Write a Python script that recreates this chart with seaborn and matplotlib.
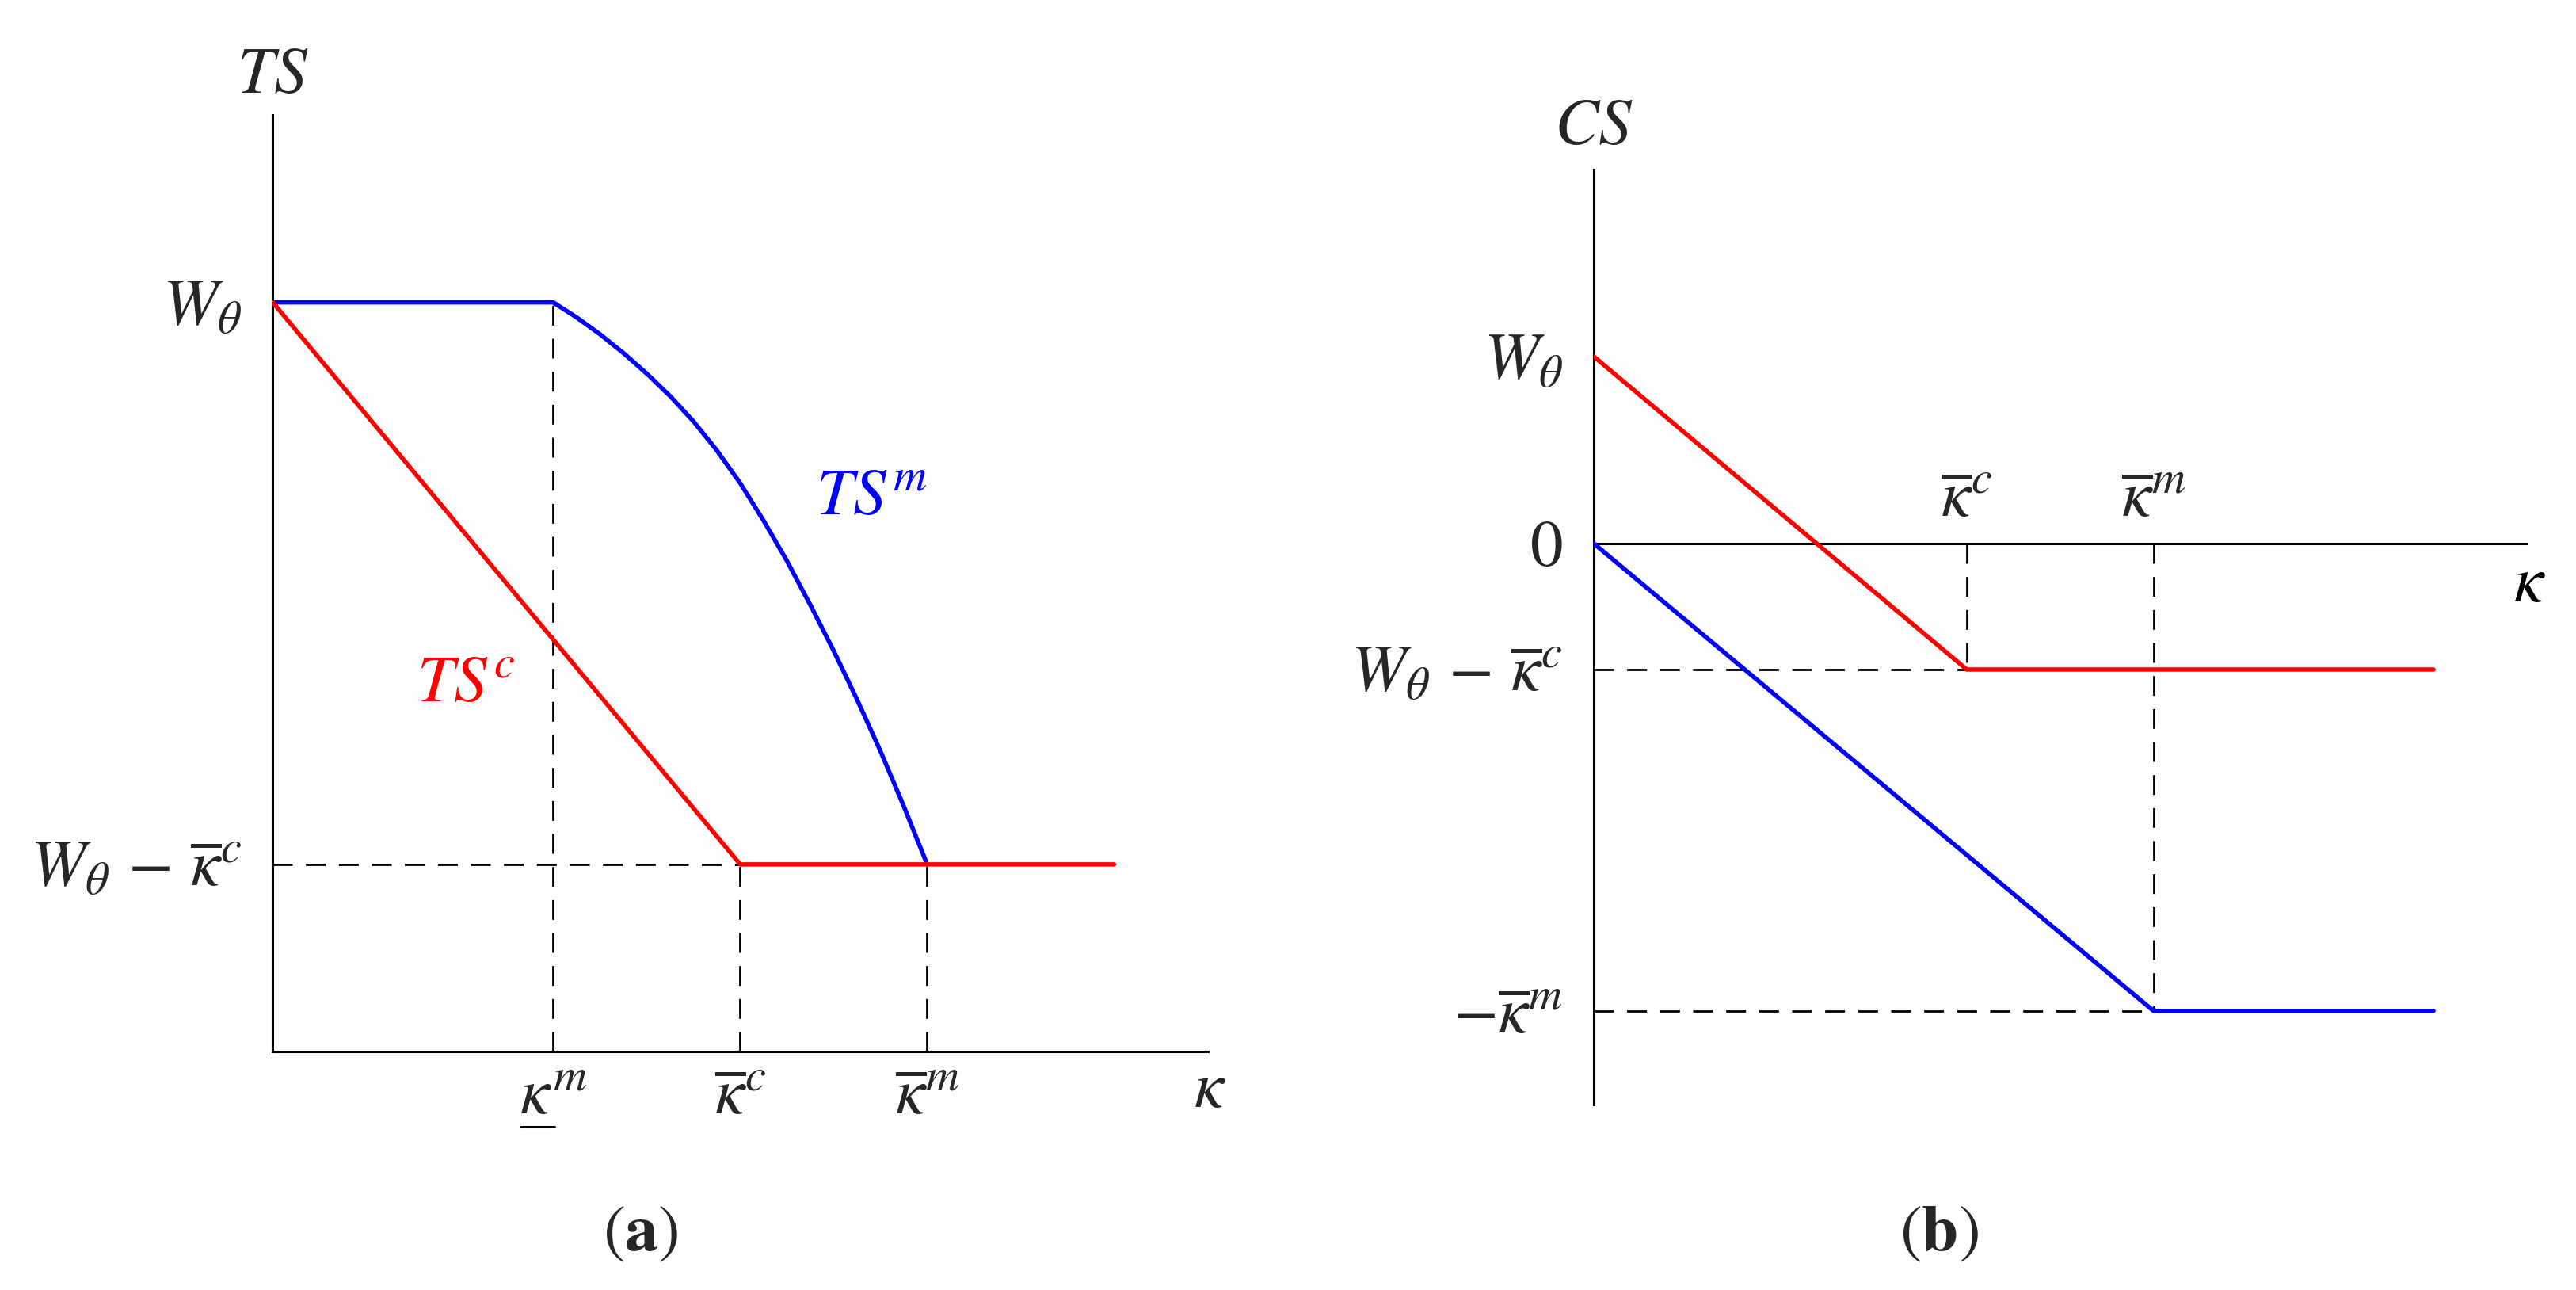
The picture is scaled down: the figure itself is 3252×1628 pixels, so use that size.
import numpy as np
import pandas as pd
import matplotlib
matplotlib.use("Agg")
import matplotlib.pyplot as plt
import seaborn as sns
from matplotlib.lines import Line2D

# ---- data ----
# panel (a): total surplus
kappa_low_m = 0.3
kappa_bar_c = 0.5
kappa_bar_m = 0.7
kappa_end_a = 0.9
W_a = 0.8
W_minus_kc_a = 0.2

tsc_x = [0.0, kappa_bar_c, kappa_end_a]
tsc_y = [W_a, W_minus_kc_a, W_minus_kc_a]

tsm_x = [0.0, 0.300, 0.325, 0.350, 0.375, 0.400, 0.425, 0.450, 0.475, 0.500,
         0.525, 0.550, 0.575, 0.600, 0.625, 0.650, 0.675, 0.700]
tsm_y = [0.8, 0.800, 0.784, 0.766, 0.746, 0.724, 0.700, 0.673, 0.642, 0.607,
         0.567, 0.524, 0.477, 0.428, 0.376, 0.321, 0.262, 0.200]

# panel (b): consumer surplus
kc_b = 0.4
km_b = 0.6
kappa_end_b = 0.9
W_b = 0.2
W_minus_kc_b = -0.135
minus_km_b = -0.5

csc_x = [0.0, kc_b, kappa_end_b]
csc_y = [W_b, W_minus_kc_b, W_minus_kc_b]
csm_x = [0.0, km_b, kappa_end_b]
csm_y = [0.0, minus_km_b, minus_km_b]

sns.set_theme(style="white")
plt.rcParams["mathtext.fontset"] = "stix"
plt.rcParams["font.family"] = ["STIXGeneral", "DejaVu Serif"]

RED = "#ff0000"
BLUE = "#0000ff"
FS = 30
LW = 2.0
dash = dict(color="black", lw=1.0, linestyle=(0, (9, 6)), zorder=1)
wkc = r"$W_\theta\,-\,\overline{\kappa}^c$"

fig = plt.figure(figsize=(16.26, 8.14), dpi=200)
ax1 = fig.add_axes([0.1059, 0.1847, 0.3629, 0.7261])
ax2 = fig.add_axes([0.6186, 0.1439, 0.3623, 0.7249])

# ---------- panel (a) ----------
ax1.plot([0, kappa_bar_m], [W_minus_kc_a, W_minus_kc_a], **dash)
ax1.plot([kappa_low_m, kappa_low_m], [0, W_a], **dash)
ax1.plot([kappa_bar_c, kappa_bar_c], [0, W_minus_kc_a], **dash)
ax1.plot([kappa_bar_m, kappa_bar_m], [0, W_minus_kc_a], **dash)

sns.lineplot(x=tsm_x, y=tsm_y, sort=False, estimator=None, color=BLUE, lw=LW, ax=ax1, zorder=3)
sns.lineplot(x=tsc_x, y=tsc_y, sort=False, estimator=None, color=RED, lw=LW, ax=ax1, zorder=4)

ax1.set_xlim(0, 1.0)
ax1.set_ylim(0, 1.0)
for s in ["top", "right"]:
    ax1.spines[s].set_visible(False)
for s in ["left", "bottom"]:
    ax1.spines[s].set_color("black")
    ax1.spines[s].set_linewidth(1.1)

ax1.set_xticks([kappa_low_m, kappa_bar_c, kappa_bar_m])
ax1.set_xticklabels([r"$\kappa^m$", r"$\overline{\kappa}^c$", r"$\overline{\kappa}^m$"], fontsize=FS)
ax1.set_yticks([W_minus_kc_a, W_a])
ax1.set_yticklabels([wkc, r"$W_\theta$"], fontsize=FS)
ax1.tick_params(axis="both", length=0)
ax1.tick_params(axis="x", pad=8)
ax1.tick_params(axis="y", pad=14)

ax1.text(0.0, 1.0235, r"$TS$", transform=ax1.transAxes, fontsize=FS, ha="center", va="baseline")
ax1.text(1.002, -0.059, r"$\kappa$", transform=ax1.transAxes, fontsize=FS, ha="center", va="baseline")
ax1.text(0.640, 0.574, r"$TS^m$", color=BLUE, fontsize=FS, ha="center", va="baseline")
ax1.text(0.2065, 0.374, r"$TS^c$", color=RED, fontsize=FS, ha="center", va="baseline")

# ---------- panel (b) ----------
ax2.plot([0, kc_b], [W_minus_kc_b, W_minus_kc_b], **dash)
ax2.plot([0, km_b], [minus_km_b, minus_km_b], **dash)
ax2.plot([kc_b, kc_b], [0, W_minus_kc_b], **dash)
ax2.plot([km_b, km_b], [0, minus_km_b], **dash)

sns.lineplot(x=csm_x, y=csm_y, sort=False, estimator=None, color=BLUE, lw=LW, ax=ax2, zorder=3)
sns.lineplot(x=csc_x, y=csc_y, sort=False, estimator=None, color=RED, lw=LW, ax=ax2, zorder=4)

ax2.set_xlim(0, 1.0)
ax2.set_ylim(-0.6, 0.4)
ax2.spines["right"].set_visible(False)
ax2.spines["bottom"].set_visible(False)
ax2.spines["top"].set_position(("data", 0))
ax2.xaxis.tick_top()
for s in ["left", "top"]:
    ax2.spines[s].set_color("black")
    ax2.spines[s].set_linewidth(1.1)

ax2.set_xticks([kc_b, km_b])
ax2.set_xticklabels([r"$\overline{\kappa}^c$", r"$\overline{\kappa}^m$"], fontsize=FS)
ax2.set_yticks([minus_km_b, W_minus_kc_b, 0, W_b])
ax2.set_yticklabels([r"$-\overline{\kappa}^m$", wkc, r"$0$", r"$W_\theta$"], fontsize=FS)
ax2.tick_params(axis="both", length=0)
ax2.tick_params(axis="x", pad=6)
ax2.tick_params(axis="y", pad=14)

ax2.text(0.0, 1.027, r"$CS$", transform=ax2.transAxes, fontsize=FS, ha="center", va="baseline")
ax2.text(1.003, -0.062, r"$\kappa$", color="black", fontsize=FS, ha="center", va="baseline")

# captions
fig.text(0.2487, 0.042, r"($\mathbf{a}$)", fontsize=FS, ha="center", va="center")
fig.text(0.7526, 0.042, r"($\mathbf{b}$)", fontsize=FS, ha="center", va="center")

# underline under the kappa of the lower threshold label (mathtext has no \underline)
fig.canvas.draw()
lab = ax1.get_xticklabels()[0]
bb = lab.get_window_extent(fig.canvas.get_renderer())
inv = fig.transFigure.inverted()
x0, y0 = inv.transform((bb.x0 + 1, bb.y0 + 2))
x1, _ = inv.transform((bb.x0 + 0.52 * bb.width, bb.y0))
fig.add_artist(Line2D([x0, x1], [y0, y0], transform=fig.transFigure, color="black", lw=1.1))

fig.savefig("out.png", dpi=200)
